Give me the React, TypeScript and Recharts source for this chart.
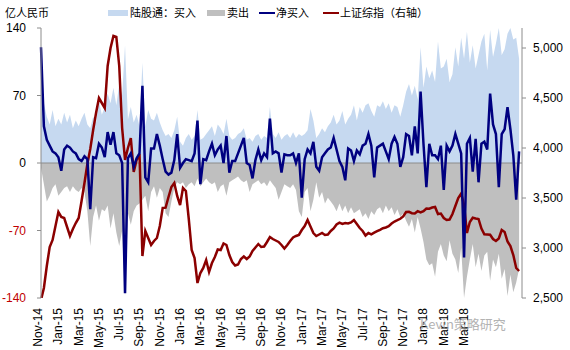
import React from 'react';
import { ComposedChart, Area, Line, XAxis, YAxis, ReferenceLine } from 'recharts';

const TICK_LABELS = [
  'Nov-14', 'Jan-15', 'Mar-15', 'May-15', 'Jul-15', 'Sep-15', 'Nov-15', 'Jan-16',
  'Mar-16', 'May-16', 'Jul-16', 'Sep-16', 'Nov-16', 'Jan-17', 'Mar-17', 'May-17',
  'Jul-17', 'Sep-17', 'Nov-17', 'Jan-18', 'Mar-18', 'Mar-18',
];
const TICK_STEP = 7;

// 陆股通：买入 (亿人民币)
const BUY = [
  125, 62, 48, 40, 55, 38, 46, 40, 52, 42,
  50, 36, 44, 38, 46, 52, 40, 36, 48, 42,
  64, 50, 58, 72, 62, 78, 60, 82, 70, 122,
  45, 58, 42, 50, 38, 104, 38, 55, 46, 44,
  52, 42, 34, 28, 30, 26, 34, 48, 22, 18,
  26, 30, 24, 28, 55, 24, 26, 30, 34, 38,
  28, 40, 36, 30, 46, 28, 24, 26, 30, 32,
  36, 24, 26, 22, 28, 30, 24, 28, 26, 58,
  30, 26, 32, 24, 28, 30, 26, 32, 26, 30,
  28, 30, 34, 56, 44, 26, 30, 36, 32, 38,
  42, 50, 40, 44, 54, 40, 46, 50, 60, 44,
  58, 52, 60, 62, 54, 48, 60, 58, 64, 56,
  62, 52, 60, 58, 48, 60, 74, 82, 70, 80,
  66, 120, 78, 100, 88, 96, 84, 126, 98, 100,
  108, 84, 92, 120, 100, 130, 108, 136, 104, 122,
  98, 112, 126, 134, 96, 138, 110, 124, 140, 112,
  118, 134, 140, 128, 130, 108,
];

// 卖出
const SELL = [
  -5, -22, -40, -34, -26, -22, -34, -30, -26, -24,
  -30, -24, -28, -30, -26, -30, -50, -86, -56, -44,
  -60, -48, -50, -44, -68, -52, -72, -86, -70, -138,
  -52, -64, -50, -44, -42, -38, -34, -50, -30, -24,
  -36, -26, -30, -52, -56, -40, -26, -20, -22, -20,
  -26, -22, -20, -24, -16, -24, -20, -16, -20, -22,
  -20, -30, -24, -22, -34, -20, -18, -16, -14, -18,
  -20, -18, -30, -22, -20, -18, -22, -20, -24, -18,
  -22, -26, -38, -30, -22, -24, -26, -22, -28, -50,
  -56, -30, -26, -50, -38, -20, -36, -30, -42, -36,
  -40, -44, -50, -42, -50, -44, -52, -46, -52, -50,
  -48, -56, -52, -58, -50, -54, -48, -46, -52, -44,
  -50, -46, -54, -48, -56, -52, -60, -66, -58, -72,
  -56, -68, -82, -100, -106, -104, -118, -92, -84, -96,
  -102, -80, -94, -100, -114, -88, -140, -118, -100, -84,
  -108, -94, -112, -96, -92, -122, -100, -108, -94, -120,
  -110, -138, -116, -134, -124, -110,
];

// 净买入
const NET = [
  120, 38, 24, 18, 12, 10, 6, -8, 14, 18,
  16, 12, 10, 4, 2, 7, 4, -48, 6, 5,
  20, 16, 6, 32, 19, 32, 10, 8, 0, -135,
  5, 10, -4, 5, 10, 80, -15, -20, 15, 15,
  30, 18, 4, -9, -12, -10, 3, 30, -5, 0,
  4, 3, 2, 10, 44, -22, 4, 3, 12, 20,
  8, 14, 18, 0, 28, -10, 2, 2, 10, 18,
  26, 0, -2, -16, 3, 14, 3, 10, 6, 46,
  10, 12, 10, -10, 9, 8, 8, 10, 0, 10,
  -36, 4, 14, 10, 22, -4, -8, 6, 10, 14,
  16, 26, 14, 2, -4, -18, 15, 13, 2, 13,
  9, 18, 20, 30, 18, -15, 16, 18, 20, 12,
  4, 20, 27, 20, -4, 6, 30, 28, 8, 38,
  10, 74, 20, -25, 20, 8, 8, 4, 18, -28,
  18, 12, 18, 30, 20, 10, -98, 20, 26, -9,
  25, -20, 20, 22, 14, 72, 40, 30, -25, 30,
  35, 58, 35, 8, -38, 12,
];

// 上证综指（右轴）
const SH_INDEX = [
  2480, 2600, 2820, 3010, 3080, 3220, 3360, 3310, 3300, 3210,
  3120, 3190, 3250, 3300, 3470, 3650, 3840, 3990, 4180, 4350,
  4500, 4450, 4400, 4820, 5000, 5120, 5110, 4820, 4200, 3880,
  4000, 4100, 3760, 3880, 3940, 2920, 3170, 3100, 3030, 3070,
  3100, 3220, 3400, 3403, 3510, 3610, 3650, 3520, 3430, 3600,
  3570, 3290, 2980, 2900, 2650, 2750, 2800, 2880, 2760, 2850,
  2910, 2985, 2980, 3045, 3030, 2930, 2860, 2825, 2835, 2890,
  2915, 2890, 2915, 2970, 3005, 3040, 3010, 3015, 3060, 3110,
  3090, 3075, 3060, 3030, 2995, 3030, 3070, 3105, 3120, 3130,
  3180, 3220, 3280, 3215, 3150, 3120, 3135, 3150, 3130, 3135,
  3170, 3195, 3235, 3253, 3240, 3250, 3245, 3255, 3280, 3240,
  3200, 3170, 3125, 3150, 3137, 3153, 3168, 3182, 3198, 3205,
  3218, 3245, 3265, 3278, 3292, 3315, 3360, 3362, 3348, 3345,
  3368, 3355, 3368, 3395, 3393, 3405, 3410, 3340, 3345, 3300,
  3280, 3285, 3340, 3420, 3500, 3545, 3430, 3150, 3260, 3303,
  3295, 3290, 3195, 3137, 3135, 3133, 3090, 3070, 3095, 3180,
  3160, 3065, 3020, 2930, 2800, 2770,
];

const LEFT_TICKS = [-140, -70, 0, 70, 140];
const RIGHT_TICKS = [2500, 3000, 3500, 4000, 4500, 5000];

const data = BUY.map((buy, i) => ({ i, buy, sell: SELL[i], net: NET[i], sh: SH_INDEX[i] }));

const FONT = '"Liberation Sans", Arial, sans-serif';
const CJK = '"Noto Sans CJK SC", sans-serif';
const AXIS_GREY = '#8c8c8c';

const LeftTick = (props: any) => {
  const { x, y, payload } = props;
  const v = payload.value;
  return (
    <text x={x} y={y} dy={4} textAnchor="end" fontSize={12} fontFamily={FONT}
      fill={v < 0 ? '#c00000' : '#000'}>{v}</text>
  );
};

const RightTick = (props: any) => {
  const { x, y, payload } = props;
  return (
    <text x={x} y={y} dy={4} textAnchor="start" fontSize={12} fontFamily={FONT} fill="#000">
      {payload.value.toLocaleString('en-US')}
    </text>
  );
};

const DateTick = (props: any) => {
  const { x, payload } = props;
  const label = TICK_LABELS[Math.round(payload.value / TICK_STEP)];
  const top = 308;
  return (
    <text x={x} y={top} dy={1} transform={`rotate(-90, ${x}, ${top})`} textAnchor="end"
      fontSize={12} fontFamily={FONT} fill="#000">{label}</text>
  );
};

const legendText: React.CSSProperties = {
  position: 'absolute', top: 4, fontSize: 11, fontFamily: CJK, color: '#000', lineHeight: '16px',
};

export default function App() {
  return (
    <div style={{ position: 'fixed', left: 0, top: 0, width: 570, height: 350, background: '#fff' }}>
      <ComposedChart width={570} height={350} data={data} margin={{ top: 28, right: 0, bottom: 0, left: 0 }}>
        <XAxis dataKey="i" type="number" domain={[0, 166]} ticks={TICK_LABELS.map((_, k) => k * TICK_STEP)}
          interval={0} tick={<DateTick />} axisLine={false} tickLine={false} height={52} />
        <YAxis yAxisId="left" orientation="left" width={41} domain={[-140, 140]} ticks={LEFT_TICKS}
          allowDataOverflow tick={<LeftTick />} tickSize={4} tickMargin={11}
          axisLine={{ stroke: AXIS_GREY }} tickLine={{ stroke: AXIS_GREY }} />
        <YAxis yAxisId="right" orientation="right" width={48} domain={[2500, 5200]} ticks={RIGHT_TICKS}
          allowDataOverflow tick={<RightTick />} tickSize={4} tickMargin={7}
          axisLine={{ stroke: AXIS_GREY }} tickLine={{ stroke: AXIS_GREY }} />
        <Area yAxisId="left" type="linear" dataKey="buy" baseValue={0} stroke="none" fill="#c6d9f0"
          fillOpacity={1} isAnimationActive={false} />
        <Area yAxisId="left" type="linear" dataKey="sell" baseValue={0} stroke="none" fill="#bfbfbf"
          fillOpacity={1} isAnimationActive={false} />
        <ReferenceLine yAxisId="left" y={0} stroke={AXIS_GREY} strokeWidth={1} />
        <Line yAxisId="right" type="linear" dataKey="sh" stroke="#8b0000" strokeWidth={2.5}
          dot={false} isAnimationActive={false} />
        <Line yAxisId="left" type="linear" dataKey="net" stroke="#000080" strokeWidth={2.5}
          dot={false} isAnimationActive={false} />
      </ComposedChart>

      <div style={{ ...legendText, left: 5 }}>亿人民币</div>
      <div style={{ position: 'absolute', left: 108, top: 10, width: 20, height: 6, background: '#c6d9f0' }} />
      <div style={{ ...legendText, left: 130 }}>陆股通：买入</div>
      <div style={{ position: 'absolute', left: 207, top: 10, width: 18, height: 6, background: '#bfbfbf' }} />
      <div style={{ ...legendText, left: 227 }}>卖出</div>
      <div style={{ position: 'absolute', left: 259, top: 12, width: 16, height: 2, background: '#000080' }} />
      <div style={{ ...legendText, left: 276 }}>净买入</div>
      <div style={{ position: 'absolute', left: 323, top: 12, width: 16, height: 2, background: '#8b0000' }} />
      <div style={{ ...legendText, left: 340 }}>上证综指（右轴）</div>

      <div style={{
        position: 'absolute', left: 420, top: 316, fontSize: 13, fontFamily: CJK,
        color: '#9a9a9a', opacity: 0.75, lineHeight: '16px',
      }}>Kevin策略研究</div>
    </div>
  );
}
